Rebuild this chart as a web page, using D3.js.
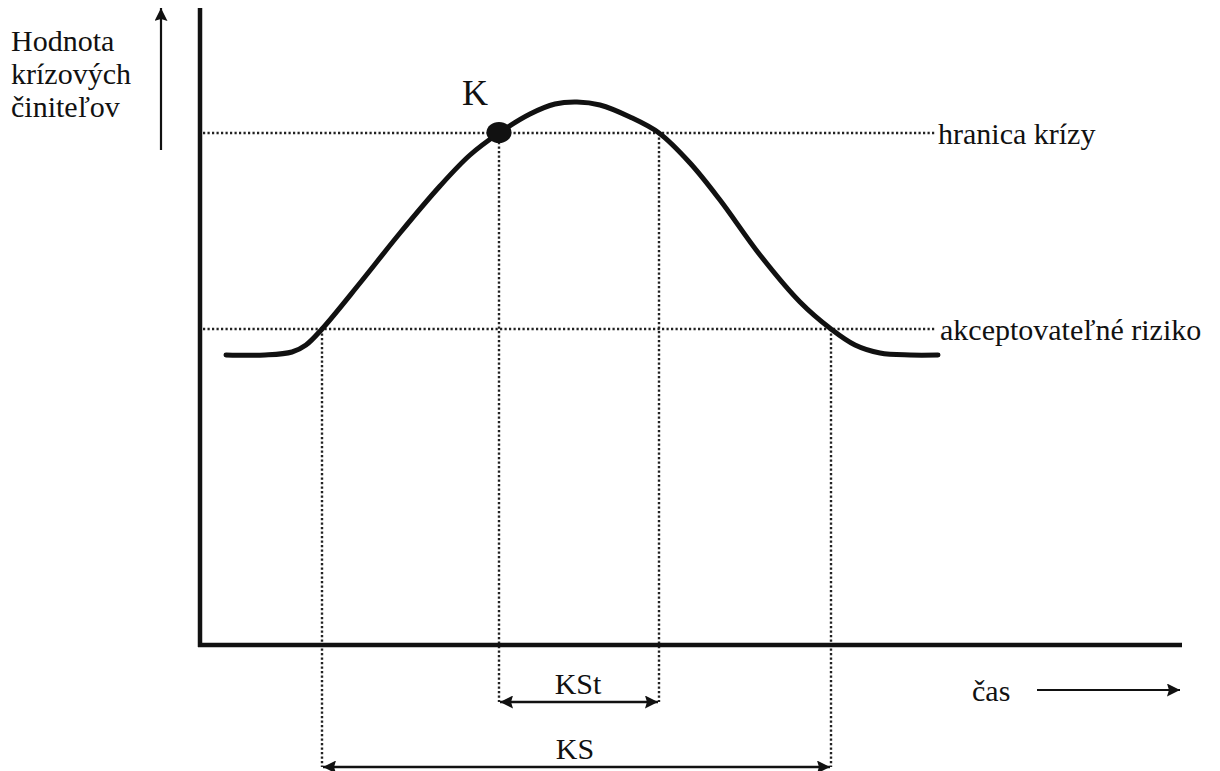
<html>
    <head>
        <title>Krízové činitele</title>
        <style>
            body { margin: 0; background: #fff; }
        </style>
    </head>
    <body>
        <svg></svg>

        <script src="https://d3js.org/d3.v7.min.js"></script>
        <script>
            // curve: time vs. value of crisis factors
            const curveTime  = [2.6, 6.5, 9.2, 10.6, 12.2, 16, 20, 24, 27, 29.9, 33, 35.5, 37.7, 40, 43, 45.9, 49, 52, 56, 60, 63.1, 65.5, 68, 71, 73.8];
            const curveValue = [29.0, 29.0, 29.3, 30.0, 31.6, 36.2, 41.2, 45.9, 49.0, 51.2, 53.1, 54.1, 54.3, 54.0, 52.8, 51.2, 48.2, 44.5, 39.0, 34.3, 31.6, 30.0, 29.2, 29.0, 29.0];

            // threshold levels
            const levelNames  = ["hranica krízy", "akceptovateľné riziko"];
            const levelValues = [51.2, 31.6];

            // crossing times: KSt, KS
            const spanNames = ["KSt", "KS"];
            const spanStart = [29.9, 12.2];
            const spanEnd   = [45.9, 63.1];

            const pointName = "K";
            const pointTime = 29.9;
            const pointValue = 51.2;

            const yLabel = ["Hodnota", "krízových", "činiteľov"];
            const xLabel = "čas";

            window.onload = function() {
                const width = 1220, height = 771;
                const font = "'Liberation Serif', 'Times New Roman', 'DejaVu Serif', serif";
                const svg = d3.select("svg")
                    .attr("width", width)
                    .attr("height", height)
                    .attr("font-family", font)
                    .style("font-family", font);

                const x = d3.scaleLinear().domain([0, 98]).range([200, 1180]);
                const y = d3.scaleLinear().domain([0, 64]).range([645, 5]);

                // arrow heads
                const defs = svg.append("defs");
                defs.append("marker")
                    .attr("id", "head")
                    .attr("viewBox", "0 0 10 10")
                    .attr("refX", 10).attr("refY", 5)
                    .attr("markerWidth", 13).attr("markerHeight", 13)
                    .attr("markerUnits", "userSpaceOnUse")
                    .attr("orient", "auto-start-reverse")
                    .append("path")
                    .attr("d", "M0,0 L10,5 L0,10 L1.5,5 Z")
                    .attr("fill", "#111");

                const dots = "2.2,2.3";

                // dotted threshold lines
                svg.selectAll(".level")
                    .data(levelValues)
                    .join("line")
                    .attr("class", "level")
                    .attr("x1", x(0.3)).attr("x2", x(73.5))
                    .attr("y1", d => y(d)).attr("y2", d => y(d))
                    .attr("stroke", "#222")
                    .attr("stroke-width", 2.4)
                    .attr("stroke-dasharray", dots);

                svg.selectAll(".levelLabel")
                    .data(levelNames)
                    .join("text")
                    .attr("class", "levelLabel")
                    .attr("x", (d, i) => i === 0 ? 938 : 940)
                    .attr("y", (d, i) => y(levelValues[i]) + 11)
                    .attr("font-size", 30)
                    .attr("fill", "#111")
                    .text(d => d);

                // dotted verticals from crossings down to the span arrows
                const spanY = [702, 767];
                const verticals = [];
                spanNames.forEach(function(n, i) {
                    const lvl = i === 0 ? levelValues[0] : levelValues[1];
                    verticals.push({t: spanStart[i], v: lvl, yEnd: spanY[i]});
                    verticals.push({t: spanEnd[i], v: lvl, yEnd: spanY[i]});
                });
                svg.selectAll(".vert")
                    .data(verticals)
                    .join("line")
                    .attr("class", "vert")
                    .attr("x1", d => x(d.t)).attr("x2", d => x(d.t))
                    .attr("y1", d => y(d.v)).attr("y2", d => d.yEnd)
                    .attr("stroke", "#222")
                    .attr("stroke-width", 2.4)
                    .attr("stroke-dasharray", dots);

                // axes
                svg.append("line")
                    .attr("x1", x(0)).attr("x2", x(0))
                    .attr("y1", 8).attr("y2", y(0) + 2)
                    .attr("stroke", "#111").attr("stroke-width", 4.5);
                svg.append("line")
                    .attr("x1", x(0) - 2).attr("x2", x(98.2))
                    .attr("y1", y(0)).attr("y2", y(0))
                    .attr("stroke", "#111").attr("stroke-width", 4.5);

                // curve
                const line = d3.line()
                    .x((d, i) => x(curveTime[i]))
                    .y(d => y(d))
                    .curve(d3.curveCatmullRom.alpha(0.5));
                svg.append("path")
                    .datum(curveValue)
                    .attr("d", line)
                    .attr("fill", "none")
                    .attr("stroke", "#111")
                    .attr("stroke-width", 5)
                    .attr("stroke-linecap", "round");

                // point K
                svg.append("ellipse")
                    .attr("cx", x(pointTime)).attr("cy", y(pointValue) - 0.5)
                    .attr("rx", 12.5).attr("ry", 10.5)
                    .attr("fill", "#111");
                svg.append("text")
                    .attr("x", x(pointTime) - 24).attr("y", 105)
                    .attr("text-anchor", "middle")
                    .attr("font-size", 36)
                    .attr("fill", "#111")
                    .text(pointName);

                // span arrows
                svg.selectAll(".span")
                    .data(spanNames)
                    .join("line")
                    .attr("class", "span")
                    .attr("x1", (d, i) => x(spanStart[i]) + 1)
                    .attr("x2", (d, i) => x(spanEnd[i]) - 1)
                    .attr("y1", (d, i) => spanY[i]).attr("y2", (d, i) => spanY[i])
                    .attr("stroke", "#111").attr("stroke-width", 2.5)
                    .attr("marker-start", "url(#head)")
                    .attr("marker-end", "url(#head)");

                svg.selectAll(".spanLabel")
                    .data(spanNames)
                    .join("text")
                    .attr("class", "spanLabel")
                    .attr("x", (d, i) => i === 0 ? 578 : 575)
                    .attr("y", (d, i) => spanY[i] - 8)
                    .attr("text-anchor", "middle")
                    .attr("font-size", 30)
                    .attr("fill", "#111")
                    .text(d => d);

                // y axis label + arrow
                svg.selectAll(".yLabel")
                    .data(yLabel)
                    .join("text")
                    .attr("class", "yLabel")
                    .attr("x", 11)
                    .attr("y", (d, i) => 51 + i * 33)
                    .attr("font-size", 30)
                    .attr("fill", "#111")
                    .text(d => d);
                svg.append("line")
                    .attr("x1", 161).attr("x2", 161)
                    .attr("y1", 150).attr("y2", 8)
                    .attr("stroke", "#111").attr("stroke-width", 2.2)
                    .attr("marker-end", "url(#head)");

                // x axis label + arrow
                svg.append("text")
                    .attr("x", 972).attr("y", 701)
                    .attr("font-size", 30)
                    .attr("fill", "#111")
                    .text(xLabel);
                svg.append("line")
                    .attr("x1", 1037).attr("x2", 1180)
                    .attr("y1", 690).attr("y2", 690)
                    .attr("stroke", "#111").attr("stroke-width", 2.2)
                    .attr("marker-end", "url(#head)");
            }
        </script>
    </body>
</html>
